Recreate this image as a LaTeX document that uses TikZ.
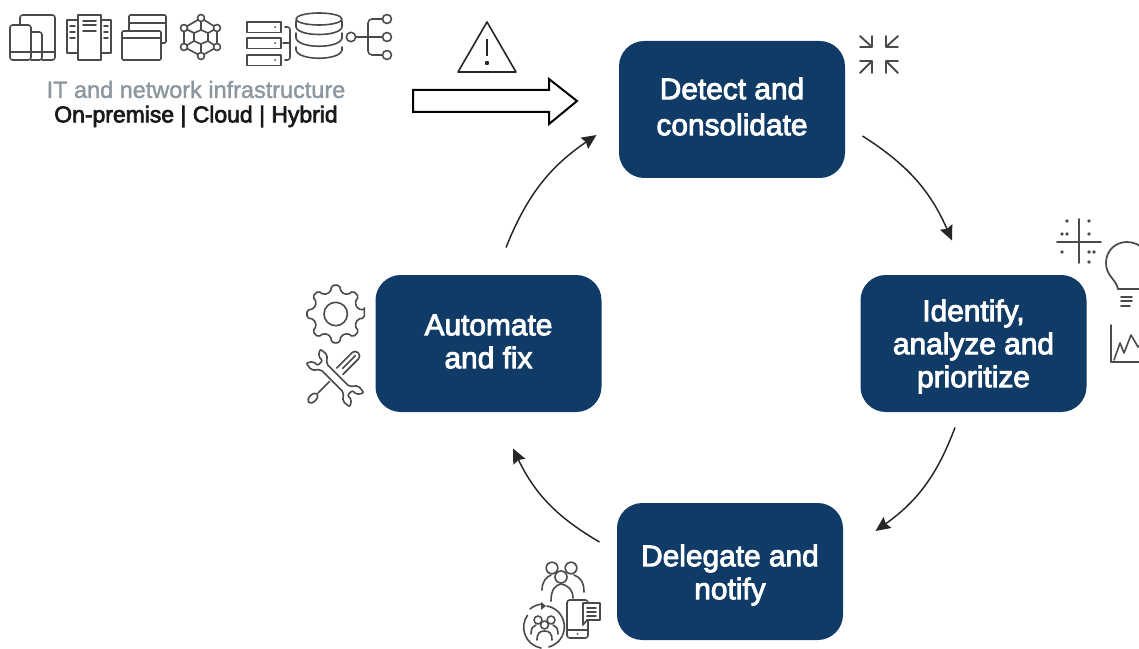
\documentclass[tikz,border=0pt]{standalone}
\usepackage{fontspec}
\setmainfont{Liberation Sans}
\newfontfamily\medfont[FakeBold=3]{Liberation Sans}
\newfontfamily\greyfont[FakeBold=1.5]{Liberation Sans}
\usetikzlibrary{arrows.meta}
\definecolor{stepblue}{HTML}{0F3B66}
\definecolor{icongray}{HTML}{4A4A4A}
\definecolor{infragray}{HTML}{8C969E}
\newcommand{\steptext}[2]{\raisebox{#1}[0pt][0pt]{\begin{tabular}{@{}c@{}}#2\end{tabular}}}
\tikzset{every picture/.style={line width=0.75pt}}
\tikzset{
  stepbox/.style={fill=stepblue,text=white,rounded corners=19pt,minimum width=169.5pt,minimum height=102.75pt,inner sep=0pt,font=\medfont\fontsize{22.4}{24.75}\selectfont},
  cyclearrow/.style={draw=black!85,line width=1.1pt,-{Stealth[length=11pt,width=10pt,inset=1.5pt]}},
  icon/.style={draw=icongray,line width=1.2pt,line join=round,line cap=round},
  icondot/.style={fill=icongray,draw=none},
}

\begin{document}
\begin{tikzpicture}[x=0.75pt,y=0.75pt,yscale=-1,xscale=1]
\useasboundingbox (0,0) rectangle (1139,649);
\clip (0,0) rectangle (1139,649);

% Step Nodes
\node (detect) at (732,109.5) [stepbox] {\steptext{-6pt}{Detect and\\[2.25pt]consolidate}};
\node (identify) at (973.5,343.5) [stepbox] {\steptext{-8.25pt}{Identify,\\analyze and\\prioritize}};
\node (delegate) at (730,571.5) [stepbox] {\steptext{-8.65pt}{Delegate and\\notify}};
\node (automate) at (488.5,343.5) [stepbox] {\steptext{-6.4pt}{Automate\\and fix}};

% Cycle Arrows
\draw [cyclearrow] ([shift={(17,26.5)}]detect.east) to [bend right=17] ([shift={(-21.5,-34)}]identify.north);
\draw [cyclearrow] ([shift={(-18.5,15)}]identify.south) to [bend right=17] ([shift={(32,-40.5)}]delegate.east);
\draw [cyclearrow] ([shift={(-17,-29.5)}]delegate.west) to [bend right=17] ([shift={(24.5,36)}]automate.south);
\draw [cyclearrow] ([shift={(17.5,-27)}]automate.north) to [bend right=17] ([shift={(-22,25.5)}]detect.west);

% Text Nodes
\node (infra) at (196,89.5) [text=infragray,font=\greyfont\fontsize{17.6}{20}\selectfont] {IT and network infrastructure};
\node (hosting) at (196,116.5) [text=black!90,font=\medfont\fontsize{17.2}{20}\selectfont] {On-premise | Cloud | Hybrid};

% Input Arrow
\draw [black,line width=1.5pt,line join=miter] (413,90) -- (549,90) -- (549,79) -- (577,101) -- (549,124) -- (549,112) -- (413,112) -- cycle;
% Warning Triangle
\draw [black!85,line width=1.2pt,line join=round] (487,22) -- (516,72) -- (458,72) -- cycle;
\draw [black!85,line width=1.5pt] (487,39) -- (487,56);
\fill [black!85] (487,63) circle (2.2);

% Devices
\draw [icon,rounded corners=2pt] (20,25) -- (20,15) -- (55,15) -- (55,60) -- (42,60);
\draw [icon,rounded corners=2pt] (10,25) rectangle (31,60);
\draw [icon,rounded corners=2pt] (31,32) -- (42,32) -- (42,60) -- (31,60);
\draw [icon] (10,52) -- (55,52);
% Documents
\draw [icon] (78,15) rectangle (101,60);
\draw [icon] (78,20) -- (67,20) -- (67,53) -- (78,53);
\draw [icon] (101,20) -- (111,20) -- (111,53) -- (101,53);
\foreach \yline in {21,25,31} {\draw [icon] (83,\yline) -- (96,\yline);}
\foreach \yline in {26,32,38} {\draw [icon] (70,\yline) -- (75,\yline); \draw [icon] (104,\yline) -- (108,\yline);}
% Windows
\draw [icon,rounded corners=1pt] (129,31) -- (129,15) -- (166,15) -- (166,43) -- (161,43);
\draw [icon] (129,23) -- (166,23);
\draw [icon,rounded corners=1pt] (122,31) rectangle (161,60);
\draw [icon] (122,38) -- (161,38);
% Hexagon Network
\draw [icon] (201,18) -- (217,28) -- (217,47) -- (201,56) -- (184,47) -- (184,28) -- cycle;
\foreach \xa/\ya/\xb/\yb in {201/18/201/30,217/28/208/33,217/47/208/41,201/56/201/44,184/47/194/41,184/28/194/33} {\draw [icon] (\xa,\ya) -- (\xb,\yb);}
\draw [icon] (201,30) -- (208,33) -- (208,41) -- (201,44) -- (194,41) -- (194,33) -- cycle;
\foreach \xa/\ya in {201/18,217/28,217/47,201/56,184/47,184/28} {\draw [icon,fill=white] (\xa,\ya) circle (3.5);}
% Servers
\foreach \ya in {22,38,55} {
  \draw [icon] (247,\ya) rectangle (281,\ya+10.5);
  \fill [icongray] (275,\ya+5) circle (1);
}
\draw [icon,rounded corners=2pt] (285,27) -- (290,27) -- (290,60) -- (285,60);
\draw [icon] (283,43) -- (290,43);
% Database
\draw [icon] (319,19) ellipse (23 and 6);
\draw [icon] (296,21) -- (296,27) .. controls (298,37) and (340,37) .. (342,27) -- (342,21);
\draw [icon] (296,33) -- (296,38) .. controls (298,49) and (340,49) .. (342,38) -- (342,33);
\draw [icon] (296,47) -- (296,50) .. controls (298,61) and (340,61) .. (342,50) -- (342,47);
% Tree
\draw [icon] (351,37) circle (4.7);
\draw [icon] (356,37) -- (382,37);
\draw [icon,rounded corners=3pt] (382,19) -- (368,19) -- (368,55) -- (382,55);
\foreach \ya in {19,37,55} {\draw [icon] (387,\ya) circle (4.5);}

% Compress Arrows
\draw [icon,line width=1.4pt] (860,36) -- (872,47) (860,47) -- (872,47) -- (872,36);
\draw [icon,line width=1.4pt] (898,36) -- (886,47) (898,47) -- (886,47) -- (886,36);
\draw [icon,line width=1.4pt] (860,73) -- (872,61) (860,61) -- (872,61) -- (872,73);
\draw [icon,line width=1.4pt] (898,73) -- (886,61) (898,61) -- (886,61) -- (886,73);

% Scatter Grid
\draw [icon] (1079,219) -- (1079,263);
\draw [icon] (1057,242) -- (1101,242);
\foreach \xa/\ya in {1067/221,1089/221,1062/234,1067/234,1089/234,1062/252,1089/252,1094/252,1089/262} {\fill [icondot] (\xa,\ya) circle (1.9);}
% Bulb
\draw [icon,line width=1.3pt] (1118,289) .. controls (1116,279) and (1106,276) .. (1106,263) .. controls (1106,250) and (1116,242) .. (1127,242) .. controls (1134,242) and (1140,245) .. (1145,250);
\draw [icon,line width=1.3pt] (1118,289) -- (1145,289);
\foreach \ya/\xb in {297/1132,301/1132,306/1130} {\draw [icon] (1121,\ya) -- (\xb,\ya);}
% Chart
\draw [icon] (1111,325) -- (1111,362) -- (1145,362);
\draw [icon] (1114,360) -- (1120,343) -- (1124,353) -- (1131,335) -- (1138,347) -- (1145,340);

% Gear
\begin{scope}[shift={(335.7,314)}]
\draw [icon,rounded corners=1.5pt] (-8:29) \foreach \ang in {0,45,...,315} { -- (\ang-8:29) -- (\ang+8:29) -- (\ang+13:22.5) -- (\ang+32:22.5) } -- cycle;
\draw [icon] (0,0) circle (11.7);
\end{scope}
% Screwdriver
\begin{scope}[shift={(335.5,375.5)},rotate=-45]
\draw [icon,rounded corners=3pt] (6,-4.5) -- (32,-4.5) -- (32,4.5) -- (6,4.5);
\draw [icon] (10,0) -- (28,0);
\draw [icon] (-8.5,0) -- (-25,0);
\draw [icon] (-32,0) ellipse (6 and 3.5);
\end{scope}
% Wrench
\begin{scope}[shift={(335,378)},rotate=45]
\draw [icon,fill=white,rounded corners=1.5pt] (-16,4) -- (-22,11) -- (-31,10) -- (-27,3.5) -- (-21,3.5) -- (-21,-3.5) -- (-27,-3.5) -- (-31,-10) -- (-22,-11) -- (-16,-4) -- (16,-4) -- (22,-11) -- (31,-10) -- (27,-3.5) -- (21,-3.5) -- (21,3.5) -- (27,3.5) -- (31,10) -- (22,11) -- (16,4) -- cycle;
\end{scope}

% Team
\draw [icon] (552,568) circle (5.8);
\draw [icon] (571,568) circle (5.8);
\draw [icon,fill=white] (561,577) circle (6);
\draw [icon] (542,590) .. controls (542,582) and (546,577) .. (551,575);
\draw [icon] (584,592) .. controls (584,582) and (580,577) .. (574,575);
\draw [icon] (551,601) .. controls (551,590) and (555,585) .. (561,584) .. controls (568,585) and (573,590) .. (573,598);
% Cycle Badge
\draw [icon] (530,609) arc [start angle=-130,end angle=-95,radius=21];
\draw [icon] (547,606) arc [start angle=-80,end angle=75,radius=21];
\draw [icon] (541,648) arc [start angle=100,end angle=215,radius=21];
\fill [icongray] (541,602) -- (546,606) -- (541,610) -- cycle;
\draw [icon] (538,620) circle (4);
\draw [icon] (551,620) circle (4);
\draw [icon,fill=white] (544.5,625) circle (4);
\draw [icon] (531,634) .. controls (531,628) and (533,626) .. (536,625);
\draw [icon] (558,634) .. controls (558,628) and (556,626) .. (553,625);
\draw [icon] (537,640) .. controls (537,633) and (540,631) .. (544.5,631) .. controls (549,631) and (552,633) .. (552,640);
% Phone
\draw [icon,fill=white,rounded corners=2pt] (567,600) rectangle (588,638);
\draw [icon] (567,630) -- (588,630);
\fill [icongray] (577.5,634) circle (1);
% Chat Bubble
\draw [icon,fill=white] (583,603) -- (600,603) -- (600,620) -- (587,620) -- (583,625) -- cycle;
\foreach \ya in {608,612,616} {\draw [icon] (587,\ya) -- (596,\ya);}
\end{tikzpicture}
\end{document}
